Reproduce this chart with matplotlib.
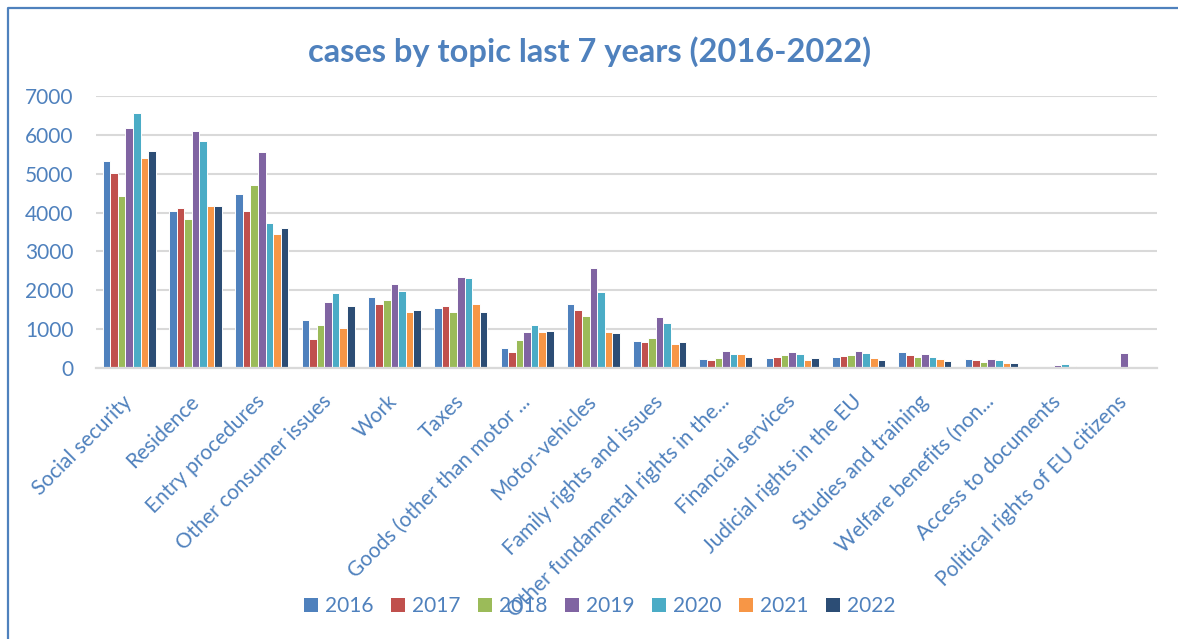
import matplotlib
matplotlib.use("Agg")
import matplotlib.pyplot as plt
import numpy as np
from matplotlib.lines import Line2D
from matplotlib.patches import Patch

plt.rcParams['font.family'] = ['Lato', 'DejaVu Sans']

categories = ["Social security", "Residence", "Entry procedures", "Other consumer issues",
              "Work", "Taxes", "Goods (other than motor ...", "Motor-vehicles",
              "Family rights and issues", "Other fundamental rights in the...",
              "Financial services", "Judicial rights in the EU", "Studies and training",
              "Welfare benefits (non...", "Access to documents", "Political rights of EU citizens"]

years = ["2016", "2017", "2018", "2019", "2020", "2021", "2022"]

year2016 = [5330, 4030, 4470, 1240, 1830, 1555, 505, 1640, 695, 225, 260, 280, 400, 225, 30, 25]
year2017 = [5010, 4110, 4030, 745, 1655, 1590, 420, 1485, 660, 210, 295, 315, 330, 210, 30, 25]
year2018 = [4420, 3840, 4710, 1105, 1740, 1435, 730, 1330, 765, 260, 330, 330, 280, 155, 30, 25]
year2019 = [6180, 6090, 5560, 1705, 2170, 2345, 935, 2565, 1315, 450, 415, 435, 350, 225, 80, 395]
year2020 = [6570, 5850, 3720, 1930, 1985, 2310, 1105, 1965, 1160, 350, 350, 385, 295, 210, 105, 25]
year2021 = [5400, 4160, 3460, 1020, 1435, 1655, 935, 920, 610, 350, 210, 245, 225, 120, 50, 0]
year2022 = [5580, 4160, 3600, 1585, 1485, 1450, 950, 900, 680, 295, 245, 210, 190, 120, 30, 25]

series = [year2016, year2017, year2018, year2019, year2020, year2021, year2022]
colors = ["#4F81BD", "#C0504D", "#9BBB59", "#8064A2", "#4BACC6", "#F79646", "#2C4D75"]
yticks = [0, 1000, 2000, 3000, 4000, 5000, 6000, 7000]

TXT = "#4F81BD"
W, H = 1178, 639
fig = plt.figure(figsize=(W / 100, H / 100), dpi=100)
ax = fig.add_axes([96 / W, 1 - 368 / H, (1157 - 96) / W, (368 - 96) / H])

n = len(series)
group_w = 0.8
bw = group_w / n
x = np.arange(len(categories))
for i, (vals, c) in enumerate(zip(series, colors)):
    ax.bar(x - group_w / 2 + bw * (i + 0.5), vals, width=bw, color=c,
           edgecolor="white", linewidth=0.7, zorder=3, label=years[i])

ax.set_xlim(-0.5, len(categories) - 0.5)
ax.set_ylim(0, 7000)
ax.set_yticks(yticks)
ax.set_yticklabels([str(v) for v in yticks])
ax.yaxis.grid(True, color="#D9D9D9", linewidth=1.5, zorder=0)
ax.set_axisbelow(True)
for s in ["top", "right", "left"]:
    ax.spines[s].set_visible(False)
ax.spines["bottom"].set_color("#D9D9D9")
ax.spines["bottom"].set_linewidth(1.6)
ax.spines["bottom"].set_zorder(4)

ax.tick_params(axis="y", length=0, pad=16, labelsize=15, labelcolor=TXT)
ax.tick_params(axis="x", length=0, pad=22, labelsize=15, labelcolor=TXT)
ax.set_xticks(x)
ax.set_xticklabels(categories)
for lbl in ax.get_xticklabels():
    lbl.set_rotation(45)
    lbl.set_ha("right")
    lbl.set_va("center")
    lbl.set_rotation_mode("anchor")

fig.text(590 / W, 1 - 52 / H, "cases by topic last 7 years (2016-2022)",
         ha="center", va="center", fontsize=23.5, fontweight="bold", color=TXT)

handles = [Patch(facecolor=c, edgecolor="none") for c in colors]
leg = fig.legend(handles, years, loc="center", bbox_to_anchor=(600 / W, 1 - 606 / H),
                 ncol=7, frameon=False, fontsize=15, handlelength=0.65, handleheight=0.65,
                 handletextpad=0.35, columnspacing=0.85, borderaxespad=0)
for t in leg.get_texts():
    t.set_color(TXT)

# chart border (top and left visible)
fig.add_artist(Line2D([7.5 / W, 7.5 / W, 1.0], [0.0, 1 - 7.5 / H, 1 - 7.5 / H],
                      transform=fig.transFigure, color="#4F81BD", linewidth=1.6))

fig.savefig("out.png", dpi=100)
